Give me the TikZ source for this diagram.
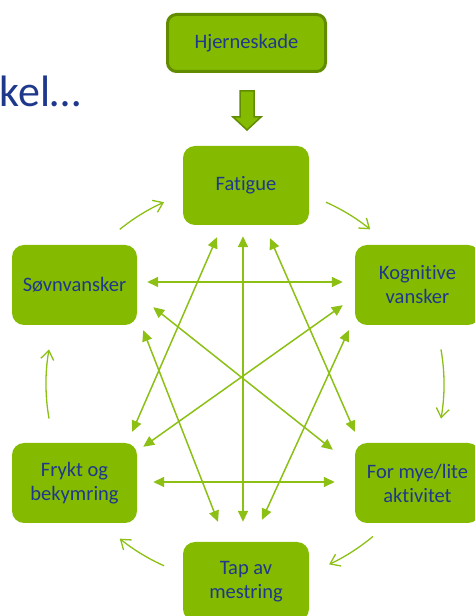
\documentclass[tikz,border=0pt]{standalone}
\usepackage{fontspec}
\setmainfont{Carlito}[Ligatures={NoCommon,NoContextual}]
\usetikzlibrary{arrows.meta,calc}
\definecolor{boxgreen}{RGB}{132,187,0}
\definecolor{linegreen}{RGB}{140,192,20}
\definecolor{edgegreen}{RGB}{98,140,0}
\definecolor{txtblue}{RGB}{30,56,140}
\tikzset{
  box/.style={rectangle, rounded corners=12pt, fill=boxgreen, minimum width=125pt,
    minimum height=80pt, text=txtblue, font=\fontsize{20.5}{24}\selectfont,
    align=center, inner sep=0pt},
  link/.style={draw=linegreen, line width=1.5pt,
    {Triangle[length=11pt,width=10pt]}-{Triangle[length=11pt,width=10pt]}},
  cyc/.style={draw=linegreen, line width=1.3pt, -{Straight Barb[length=9pt,width=13pt]}},
  blockarrow/.style={fill=boxgreen, draw=edgegreen, line width=1.5pt, line join=miter},
}
\begin{document}
\begin{tikzpicture}[x=1pt,y=1pt]
\useasboundingbox (0,0) rectangle (475,616);
\clip (0,0) rectangle (475,616);

% title fragment
\node[anchor=base east, inner sep=0pt, text=txtblue, font=\fontsize{44}{48}\selectfont] (ttl) at (81,509) {kel…};

% nodes
\node[box, draw=edgegreen, line width=3pt, rounded corners=9pt, minimum width=158pt, minimum height=57pt] (hje) at (246.5,573) {Hjerneskade};
\node[box, minimum width=126pt, minimum height=79pt] (fat) at (246,430.5) {Fatigue};
\node[box] (sov) at (74.5,331) {Søvnvansker};
\node[box] (kog) at (417.5,331) {Kognitive\\vansker};
\node[box] (fry) at (74.5,133) {Frykt og\\bekymring};
\node[box] (for) at (417.5,133) {For mye/lite\\aktivitet};
\node[box, minimum width=126pt, minimum height=79pt] (tap) at (246,34.5) {Tap av\\mestring};

% block arrow from Hjerneskade to Fatigue
\draw[blockarrow] (240,525) -- (254,525) -- (254,499) -- (261,499) -- (247,486) -- (233,499) -- (240,499) -- cycle;

% straight two-headed links
\draw[link] ([shift={(10,3)}]sov.east) -- ([shift={(-12,3)}]kog.west);
\draw[link] ([shift={(16,1)}]fry.east) -- ([shift={(-20,1)}]for.west);
\draw[link] ([shift={(-3,-11)}]fat.south) -- ([shift={(-3,20)}]tap.north);
\draw[link] ([shift={(-29,-12)}]fat.south) -- ([shift={(-5,11)}]fry.north east);
\draw[link] ([shift={(24,-13)}]fat.south) -- ([shift={(0,11)}]for.north west);
\draw[link] ([shift={(6,-5)}]sov.south east) -- ([shift={(-28,20)}]tap.north);
\draw[link] ([shift={(-6,-5)}]kog.south west) -- ([shift={(16,22)}]tap.north);
\draw[link] ([shift={(16,18)}]sov.south east) -- ([shift={(-22,-7)}]for.north west);
\draw[link] ([shift={(-12,20)}]kog.south west) -- ([shift={(6,-4)}]fry.north east);

% cycle arcs
\coordinate (C) at (245,232);
\draw[cyc] ($(C)+(129:199)$) arc[start angle=129, end angle=114, radius=199];
\draw[cyc] ($(C)+(66:199)$) arc[start angle=66, end angle=51, radius=199];
\draw[cyc] ($(C)+(10:199)$) arc[start angle=10, end angle=-10, radius=199];
\draw[cyc] ($(C)+(-50:199)$) arc[start angle=-50, end angle=-65, radius=199];
\draw[cyc] ($(C)+(246:199)$) arc[start angle=246, end angle=231, radius=199];
\draw[cyc] ($(C)+(190:199)$) arc[start angle=190, end angle=170, radius=199];
\end{tikzpicture}
\end{document}
